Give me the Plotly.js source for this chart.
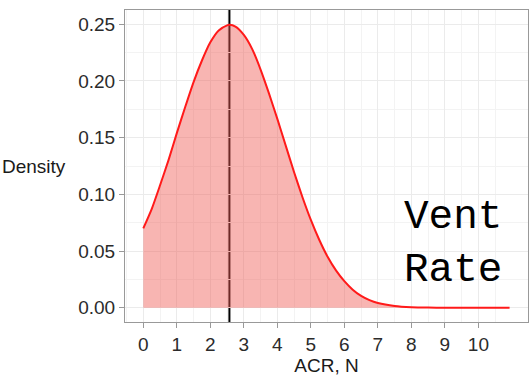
<!DOCTYPE html>
<html>
<head>
<meta charset="utf-8">
<script src="https://cdn.plot.ly/plotly-3.0.1.min.js"></script>
<style>html,body{margin:0;padding:0;background:#fff;}#chart{width:529px;height:376px;}</style>
</head>
<body>
<div id="chart"></div>
<script>
// Density curve of ACR, N
const acr = [0, 0.25, 0.5, 0.75, 1.0, 1.25, 1.5, 1.75, 2.0, 2.25, 2.5, 2.57, 2.75, 3.0, 3.25, 3.5, 3.75, 4.0, 4.25, 4.5, 4.75, 5.0, 5.25, 5.5, 5.75, 6.0, 6.25, 6.5, 6.75, 7.0, 7.5, 8.0, 8.5, 9.0, 9.5, 10.0, 10.5, 10.93];
const density = [0.070, 0.087, 0.108, 0.130, 0.154, 0.177, 0.199, 0.218, 0.234, 0.2445, 0.249, 0.2494, 0.2478, 0.2405, 0.228, 0.210, 0.189, 0.1665, 0.143, 0.1195, 0.0975, 0.0775, 0.060, 0.045, 0.033, 0.0235, 0.016, 0.0105, 0.0068, 0.0043, 0.0017, 0.0006, 0.0002, 0.0001, 0.00003, 0.00001, 0, 0];
const meanACR = 2.57;
const xTicks = [0, 1, 2, 3, 4, 5, 6, 7, 8, 9, 10];
const yTicks = [0, 0.05, 0.10, 0.15, 0.20, 0.25];
const yTickText = ['0.00', '0.05', '0.10', '0.15', '0.20', '0.25'];
const xLabel = 'ACR, N';
const yLabel = 'Density';
const panelText = 'Vent<br>Rate';

const font = 'Liberation Sans, Arial, sans-serif';
const traces = [{
  x: acr, y: density, type: 'scatter', mode: 'lines',
  fill: 'tozeroy', fillcolor: 'rgba(240,90,85,0.45)',
  line: {color: '#FF1A1A', width: 2, shape: 'spline', smoothing: 0.6},
  hoverinfo: 'skip', showlegend: false
}];

const layout = {
  width: 529, height: 376,
  margin: {l: 125, r: 1, t: 10, b: 54},
  paper_bgcolor: '#fff', plot_bgcolor: '#fff',
  showlegend: false,
  xaxis: {
    range: [-0.546, 11.48], tickmode: 'array', tickvals: xTicks,
    ticks: 'outside', ticklen: 5, tickwidth: 1, tickcolor: '#999',
    showline: true, mirror: true, linecolor: '#999', linewidth: 1,
    showgrid: true, gridcolor: '#EBEBEB', gridwidth: 1, zeroline: false,
    minor: {tickmode: 'linear', tick0: 0.5, dtick: 1, showgrid: true, gridcolor: '#F3F3F3', gridwidth: 1, ticks: ''},
    tickfont: {family: font, size: 19, color: '#2b2b2b'},
    title: {text: xLabel, font: {family: font, size: 19, color: '#1a1a1a'}, standoff: 4}
  },
  yaxis: {
    range: [-0.0125, 0.2625], tickmode: 'array', tickvals: yTicks, ticktext: yTickText,
    ticks: 'outside', ticklen: 5, tickwidth: 1, tickcolor: '#999',
    showline: true, mirror: true, linecolor: '#999', linewidth: 1,
    showgrid: true, gridcolor: '#EBEBEB', gridwidth: 1, zeroline: false,
    minor: {tickmode: 'linear', tick0: 0.025, dtick: 0.05, showgrid: true, gridcolor: '#F3F3F3', gridwidth: 1, ticks: ''},
    tickfont: {family: font, size: 19, color: '#2b2b2b'}
  },
  shapes: [{
    type: 'line', xref: 'x', yref: 'paper', x0: meanACR, x1: meanACR, y0: 0, y1: 1,
    line: {color: '#000', width: 2}, layer: 'below'
  }],
  annotations: [
    {text: yLabel, xref: 'paper', yref: 'paper', x: -125/403, y: 0.5, xanchor: 'left', yanchor: 'middle',
     showarrow: false, font: {family: font, size: 19, color: '#1a1a1a'}},
    {text: panelText, xref: 'x', yref: 'y', x: 9.23, y: 0.0568, xanchor: 'center', yanchor: 'middle',
     showarrow: false, align: 'left', font: {family: 'Liberation Mono, Courier New, monospace', size: 41, color: '#000'}}
  ]
};

Plotly.newPlot('chart', traces, layout, {displayModeBar: false, staticPlot: true});
</script>
</body>
</html>
